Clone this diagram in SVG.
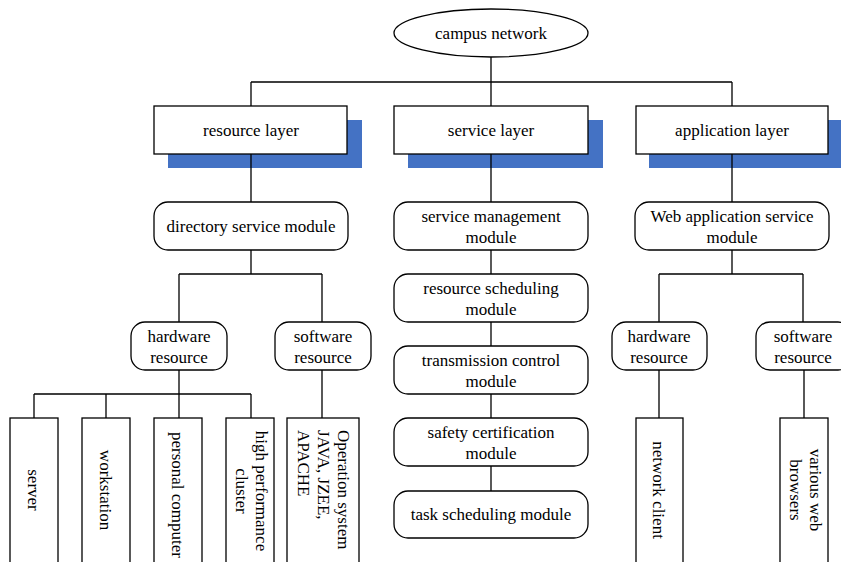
<svg xmlns="http://www.w3.org/2000/svg" width="841" height="562" viewBox="0 0 841 562">
<style>
text{font-family:"Liberation Serif","Times New Roman",serif;font-size:17px;fill:#000;text-anchor:middle}
.box{fill:#fff;stroke:#000;stroke-width:1.3}
.shadow{fill:#4472C4}
.ln{fill:none;stroke:#000;stroke-width:1.3}
</style>
<rect width="841" height="562" fill="#fff"/>
<g id="connectors">
<path class="ln" d="M491,57V106M251,82H732M251,82V106M732,82V106"/>
<path class="ln" d="M251,154V202M251,250V274M179,274H322M179,274V322M322,274V322"/>
<path class="ln" d="M179,370V394M34,394H251M34,394V418M106,394V418M179,394V418M251,394V418M322,370V418"/>
<path class="ln" d="M491,154V491"/>
<path class="ln" d="M732,154V202M732,250V274M659,274H803M659,274V322M803,274V322M659,370V418M804,370V418"/>
</g>
<g id="campus-network">
<ellipse class="box" cx="491" cy="33" rx="97" ry="24"/>
<text x="491" y="39">campus network</text>
</g>
<g id="resource-layer">
<rect class="shadow" x="168" y="120" width="194" height="48"/>
<path class="ln" d="M251,154V168"/>
<rect class="box" x="154" y="106" width="193" height="48"/>
<text x="251" y="136">resource layer</text>
</g>
<g id="service-layer">
<rect class="shadow" x="408" y="120" width="195" height="48"/>
<path class="ln" d="M491,154V168"/>
<rect class="box" x="394" y="106" width="194" height="48"/>
<text x="491" y="136">service layer</text>
</g>
<g id="application-layer">
<rect class="shadow" x="649" y="120" width="195" height="48"/>
<path class="ln" d="M732,154V168"/>
<rect class="box" x="636" y="106" width="192" height="48"/>
<text x="732" y="136">application layer</text>
</g>
<g id="directory-service-module">
<rect class="box" x="154" y="202" width="194" height="48" rx="14"/>
<text x="251" y="232">directory service module</text>
</g>
<g id="hardware-resource-1">
<rect class="box" x="131" y="322" width="96" height="48" rx="14"/>
<text x="179" y="342">hardware</text><text x="179" y="363">resource</text>
</g>
<g id="software-resource-1">
<rect class="box" x="275" y="322" width="96" height="48" rx="14"/>
<text x="323" y="342">software</text><text x="323" y="363">resource</text>
</g>
<g id="server">
<rect class="box" x="10" y="418" width="48" height="160"/>
<text transform="translate(34,490) rotate(90)" dy="0.35em">server</text>
</g>
<g id="workstation">
<rect class="box" x="82" y="418" width="48" height="160"/>
<text transform="translate(106,490) rotate(90)" dy="0.35em">workstation</text>
</g>
<g id="personal-computer">
<rect class="box" x="154" y="418" width="48" height="160"/>
<text transform="translate(178,495) rotate(90)" dy="0.35em">personal computer</text>
</g>
<g id="high-performance-cluster">
<rect class="box" x="226" y="418" width="48" height="160"/>
<text transform="translate(251,491) rotate(90)"><tspan x="0" y="-4.5">high performance</tspan><tspan x="0" y="15.5">cluster</tspan></text>
</g>
<g id="operation-system">
<rect class="box" x="287" y="418" width="72" height="160"/>
<text transform="translate(323,430) rotate(90)" style="text-anchor:start"><tspan x="0" y="-14.5">Operation system</tspan><tspan x="0" y="5.5">JAVA, JZEE,</tspan><tspan x="0" y="25.5">APACHE</tspan></text>
</g>
<g id="service-management-module">
<rect class="box" x="394" y="202" width="194" height="48" rx="14"/>
<text x="491" y="222">service management</text><text x="491" y="243">module</text>
</g>
<g id="resource-scheduling-module">
<rect class="box" x="394" y="274" width="194" height="48" rx="14"/>
<text x="491" y="294">resource scheduling</text><text x="491" y="315">module</text>
</g>
<g id="transmission-control-module">
<rect class="box" x="394" y="346" width="194" height="48" rx="14"/>
<text x="491" y="366">transmission control</text><text x="491" y="387">module</text>
</g>
<g id="safety-certification-module">
<rect class="box" x="394" y="418" width="194" height="48" rx="14"/>
<text x="491" y="438">safety certification</text><text x="491" y="459">module</text>
</g>
<g id="task-scheduling-module">
<rect class="box" x="394" y="491" width="194" height="47" rx="14"/>
<text x="491" y="520">task scheduling module</text>
</g>
<g id="web-application-service-module">
<rect class="box" x="635" y="202" width="194" height="48" rx="14"/>
<text x="732" y="222">Web application service</text><text x="732" y="243">module</text>
</g>
<g id="hardware-resource-2">
<rect class="box" x="612" y="322" width="95" height="48" rx="14"/>
<text x="659" y="342">hardware</text><text x="659" y="363">resource</text>
</g>
<g id="software-resource-2">
<rect class="box" x="756" y="322" width="96" height="48" rx="14"/>
<text x="803" y="342">software</text><text x="803" y="363">resource</text>
</g>
<g id="network-client">
<rect class="box" x="636" y="418" width="47" height="160"/>
<text transform="translate(659,490) rotate(90)" dy="0.35em">network client</text>
</g>
<g id="various-web-browsers">
<rect class="box" x="780" y="418" width="48" height="160"/>
<text transform="translate(805,490) rotate(90)"><tspan x="0" y="-4.5">various web</tspan><tspan x="0" y="15.5">browsers</tspan></text>
</g>
</svg>
